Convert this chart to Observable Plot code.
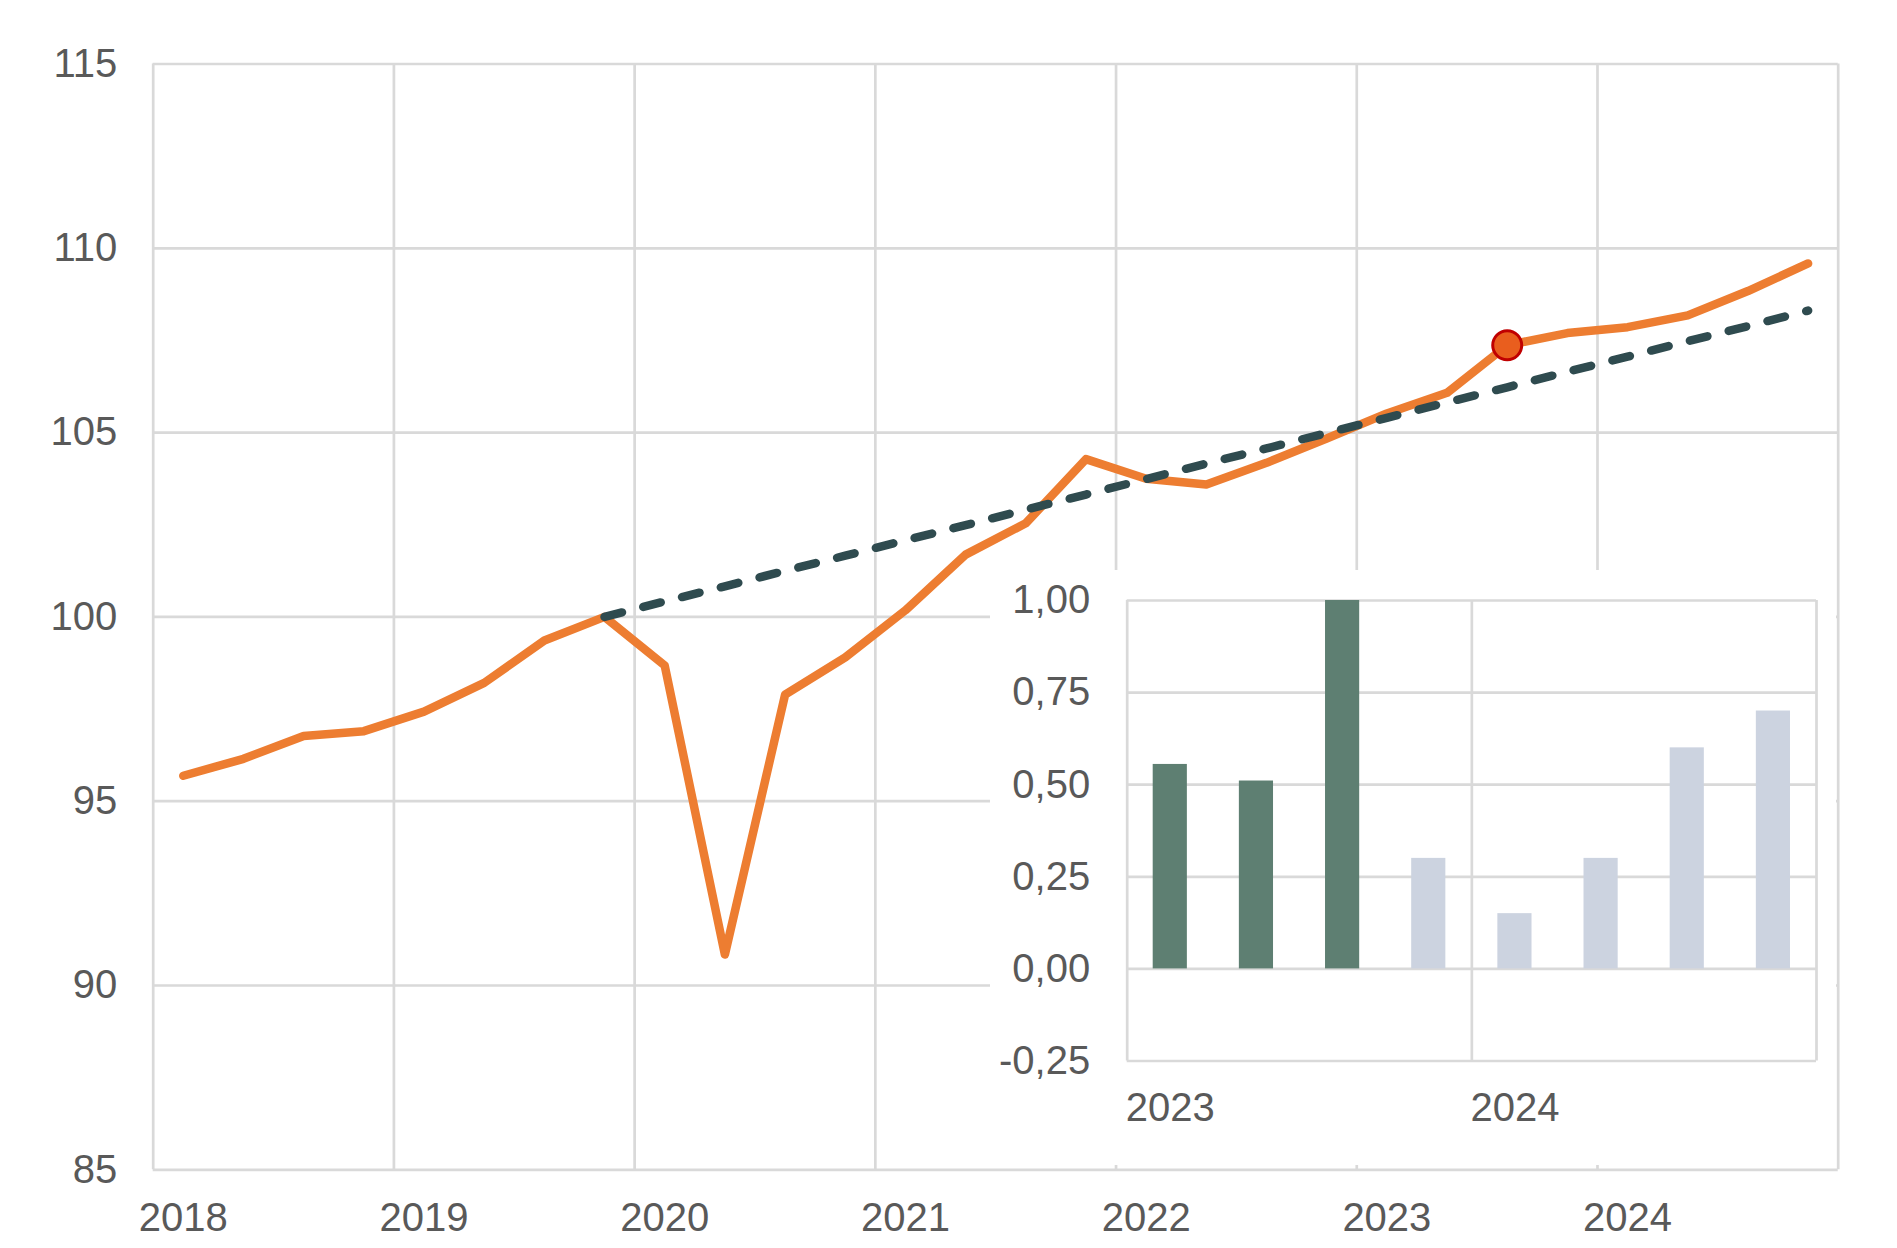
<!DOCTYPE html>
<html>
<head>
<meta charset="utf-8">
<script src="https://cdn.jsdelivr.net/npm/d3@7"></script>
<script src="https://cdn.jsdelivr.net/npm/@observablehq/plot@0.6"></script>
<style>
  html, body { margin: 0; padding: 0; background: #fff; }
  #wrap { position: relative; width: 1897px; height: 1248px; overflow: hidden; }
  #inset { position: absolute; left: 990px; top: 570px; width: 846px; height: 595px; background: #fff; }
  svg { display: block; }
</style>
</head>
<body>
<div id="wrap"><div id="main"></div><div id="inset"></div></div>
<script>
// ---------- Main chart data ----------
const quarters = [
  "2018Q1","2018Q2","2018Q3","2018Q4",
  "2019Q1","2019Q2","2019Q3","2019Q4",
  "2020Q1","2020Q2","2020Q3","2020Q4",
  "2021Q1","2021Q2","2021Q3","2021Q4",
  "2022Q1","2022Q2","2022Q3","2022Q4",
  "2023Q1","2023Q2","2023Q3","2023Q4",
  "2024Q1","2024Q2","2024Q3","2024Q4"
];
const gdpIndex = [
  95.69, 96.15, 96.77, 96.90,
  97.43, 98.21, 99.36, 100.00,
  98.68, 90.84, 97.89, 98.90,
  100.18, 101.69, 102.54, 104.28,
  103.75, 103.59, 104.18, 104.84,
  105.52, 106.08, 107.37, 107.70,
  107.86, 108.18, 108.84, 109.59
];
const trendQuarters = [
  "2019Q4",
  "2020Q1","2020Q2","2020Q3","2020Q4",
  "2021Q1","2021Q2","2021Q3","2021Q4",
  "2022Q1","2022Q2","2022Q3","2022Q4",
  "2023Q1","2023Q2","2023Q3","2023Q4",
  "2024Q1","2024Q2","2024Q3","2024Q4"
];
const trendIndex = [
  100.00,
  100.42, 100.83, 101.25, 101.66,
  102.08, 102.49, 102.91, 103.32,
  103.74, 104.16, 104.57, 104.99,
  105.40, 105.82, 106.23, 106.65,
  107.06, 107.48, 107.89, 108.31
];
const highlightQuarter = "2023Q3";
const mainYTicks = [85, 90, 95, 100, 105, 110, 115];
const mainYearLabels = [2018, 2019, 2020, 2021, 2022, 2023, 2024];
const mainYearBounds = [2018, 2019, 2020, 2021, 2022, 2023, 2024, 2025];

// ---------- Inset data ----------
const insetQuarters = ["2023Q1","2023Q2","2023Q3","2023Q4","2024Q1","2024Q2","2024Q3","2024Q4"];
const insetValues = [0.555, 0.51, 1.00, 0.30, 0.15, 0.30, 0.60, 0.70];
const insetKind = ["actual","actual","actual","forecast","forecast","forecast","forecast","forecast"];
const insetYTicks = [-0.25, 0, 0.25, 0.5, 0.75, 1];
const insetYearLabels = [2023, 2024];
const insetYearBounds = [2023, 2024, 2025];

// ---------- helpers ----------
const qYear = q => +q.slice(0, 4);
const qNum = q => +q.slice(5);
const qMid = q => qYear(q) + (qNum(q) - 0.5) / 4;
const qStart = q => qYear(q) + (qNum(q) - 1) / 4;
const labelPos = y => y + 0.125;

const mainData = quarters.map((q, i) => ({q, t: qMid(q), v: gdpIndex[i]}));
const trendData = trendQuarters.map((q, i) => ({q, t: qMid(q), v: trendIndex[i]}));
const barData = insetQuarters.map((q, i) => ({q, t0: qStart(q), t1: qStart(q) + 0.25, v: insetValues[i], kind: insetKind[i]}));

const font = "'Liberation Sans', Arial, Helvetica, sans-serif";
const gridColor = "#D9D9D9";
const textColor = "#595959";

const main = Plot.plot({
  width: 1897, height: 1248,
  marginLeft: 152.7, marginRight: 59.3, marginTop: 63.5, marginBottom: 78.7,
  style: {fontFamily: font, fontSize: "40px", color: textColor, background: "#fff"},
  x: {domain: [2018, 2025]},
  y: {domain: [85, 115]},
  marks: [
    Plot.gridY(mainYTicks, {stroke: gridColor, strokeOpacity: 1, strokeWidth: 2.7}),
    Plot.gridX(mainYearBounds, {stroke: gridColor, strokeOpacity: 1, strokeWidth: 2.7}),
    Plot.axisY(mainYTicks, {tickSize: 0, tickPadding: 36, tickFormat: d => String(d), label: null, fill: textColor}),
    Plot.axisX(mainYearLabels.map(labelPos), {tickSize: 0, tickPadding: 33, tickFormat: d => String(Math.round(d - 0.125)), label: null, fill: textColor}),
    Plot.line(mainData, {x: "t", y: "v", stroke: "#ED7D31", strokeWidth: 8.5, strokeLinejoin: "round", strokeLinecap: "round"}),
    Plot.line(trendData, {x: "t", y: "v", stroke: "#2F4B4F", strokeWidth: 8.5, strokeDasharray: "18 22", strokeLinecap: "round"}),
    Plot.dot(mainData.filter(d => d.q === highlightQuarter), {x: "t", y: "v", r: 14.5, fill: "#E95E1E", stroke: "#C00000", strokeWidth: 3})
  ]
});
document.getElementById("main").appendChild(main);

const commaFmt = d => (d < 0 ? "-" : "") + Math.abs(d).toFixed(2).replace(".", ",");

const inset = Plot.plot({
  width: 846, height: 595,
  marginLeft: 136.7, marginRight: 20, marginTop: 30, marginBottom: 104.5,
  style: {fontFamily: font, fontSize: "40px", color: textColor, background: "#fff"},
  x: {domain: [2023, 2025]},
  y: {domain: [-0.25, 1]},
  color: {domain: ["actual", "forecast"], range: ["#5E7F72", "#CCD3E0"]},
  marks: [
    Plot.gridY(insetYTicks, {stroke: gridColor, strokeOpacity: 1, strokeWidth: 2.7}),
    Plot.gridX(insetYearBounds, {stroke: gridColor, strokeOpacity: 1, strokeWidth: 2.7}),
    Plot.axisY(insetYTicks, {tickSize: 0, tickPadding: 37, tickFormat: commaFmt, label: null, fill: textColor}),
    Plot.axisX(insetYearLabels.map(labelPos), {tickSize: 0, tickPadding: 32, tickFormat: d => String(Math.round(d - 0.125)), label: null, fill: textColor}),
    Plot.rect(barData, {x1: "t0", x2: "t1", y1: 0, y2: "v", fill: "kind", insetLeft: 26, insetRight: 26})
  ]
});
document.getElementById("inset").appendChild(inset);
</script>
</body>
</html>
